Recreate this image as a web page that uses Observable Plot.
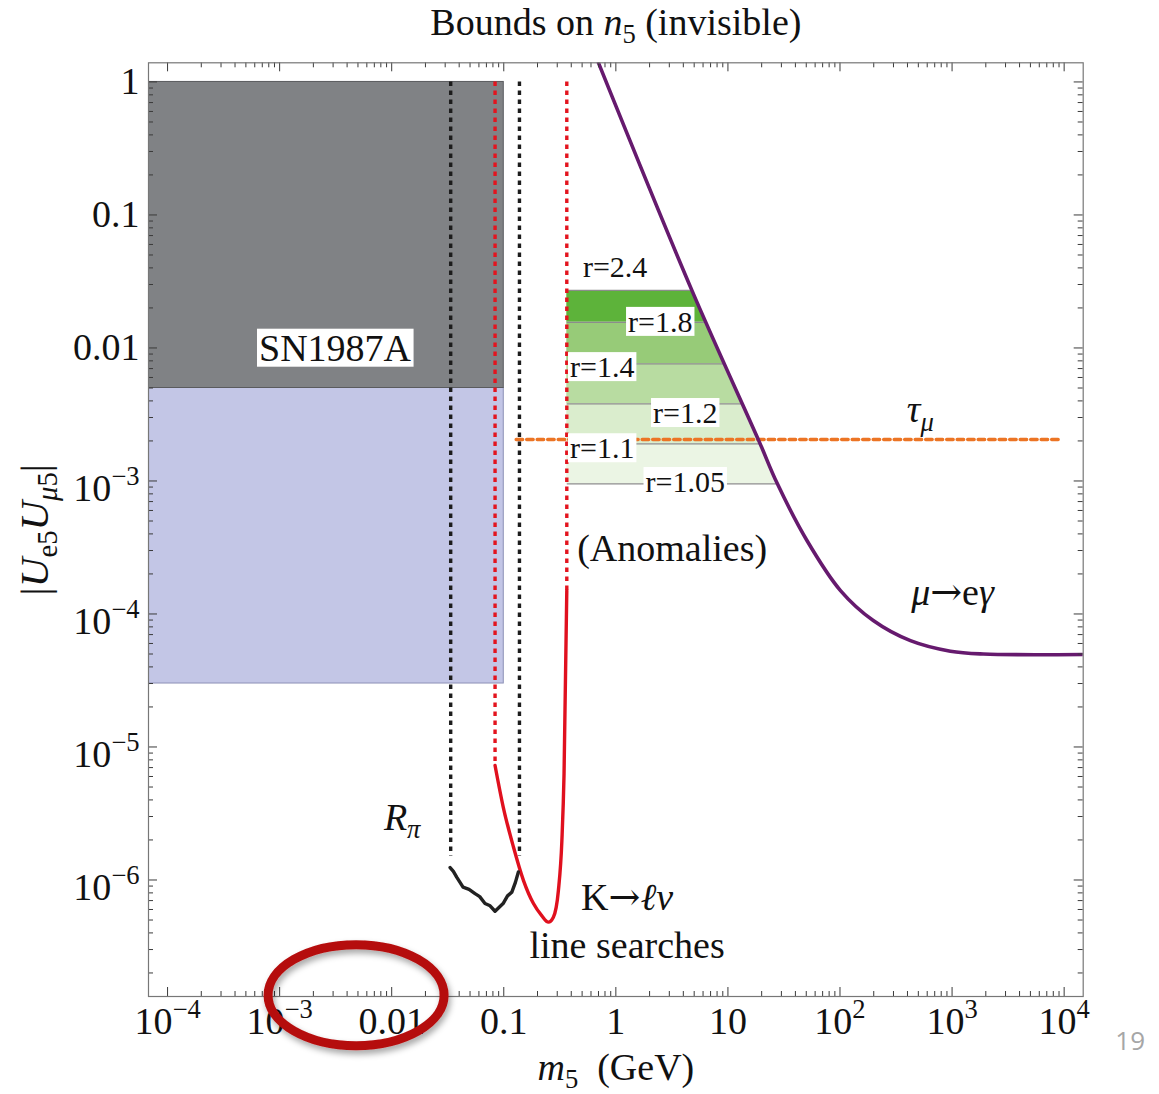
<!DOCTYPE html>
<html>
<head>
<meta charset="utf-8">
<script src="https://cdn.jsdelivr.net/npm/d3@7"></script>
<script src="https://cdn.jsdelivr.net/npm/@observablehq/plot@0.6"></script>
<style>
  html, body { margin: 0; padding: 0; background: #fff; }
  #chart { width: 1159px; height: 1094px; overflow: hidden; }
</style>
</head>
<body>
<div id="chart"></div>
<script>
// Bounds on the heavy neutrino n5 (invisible): |Ue5 Uμ5| against m5 (GeV), log–log.
// Markup used in the labels: *italic*, _subscript_, ^superscript^.

// SN1987A exclusion (dark) and its weaker extension (light blue)
const snMass = [1e-5, 0.1];
const snDarkU = [5e-3, 1];
const snLightU = [3e-5, 5e-3];

// R_pi: dotted vertical limits and the solid bound at the bottom
const rpiEdgeMass = [0.0336, 0.138];
const rpiEdgeTop = [1, 1];
const rpiEdgeBottom = [1.5e-6, 1.5e-6];
const rpiMass = [0.0332, 0.0355, 0.038, 0.0433, 0.049, 0.0554, 0.061, 0.068, 0.0755, 0.0836, 0.0986, 0.108, 0.118, 0.127, 0.135];
const rpiU = [1.24e-6, 1.16e-6, 1.05e-6, 8.83e-7, 8.5e-7, 7.9e-7, 7.5e-7, 6.65e-7, 6.4e-7, 5.82e-7, 6.65e-7, 7.6e-7, 8.1e-7, 9.6e-7, 1.15e-6];

// K → ℓν line searches: dotted vertical limits and the solid bound
const kEdgeMass = [0.0836, 0.365];
const kEdgeTop = [1, 1];
const kEdgeBottom = [7.26e-6, 1.5e-4];
const kMass = [0.0836, 0.099, 0.122, 0.150, 0.184, 0.218, 0.25, 0.277, 0.307, 0.33, 0.345, 0.365];
const kU = [7.26e-6, 3.52e-6, 1.77e-6, 9.9e-7, 6.65e-7, 5.4e-7, 4.82e-7, 5.25e-7, 8.3e-7, 1.98e-6, 6.3e-6, 1.5e-4];

// μ → eγ bound
const meMass = [0.70, 4.77, 18.8, 27.5, 50.7, 101, 198, 425, 966, 1900, 14800];
const meU = [1.39, 0.0271, 2.02e-3, 9.6e-4, 3.57e-4, 1.5e-4, 8.93e-5, 6.3e-5, 5.25e-5, 5.0e-5, 4.96e-5];

// τ_μ bound
const tauMass = [0.129, 9600];
const tauU = [2.05e-3, 2.05e-3];

// Anomaly-preferred bands (contours of r), bounded on the right by μ → eγ
const bandLeftMass = 0.365;
const bandEdgeU = [0.0271, 0.0156, 7.6e-3, 3.8e-3, 1.9e-3, 9.5e-4];
const bandFill = ["#5db33a", "#97cb78", "#b8dca1", "#daedcd", "#ebf5e4"];
const rLabels = ["r=2.4", "r=1.8", "r=1.4", "r=1.2", "r=1.1", "r=1.05"];
const rLabelMass = [0.985, 2.49, 0.755, 4.16, 0.755, 4.16];
const rLabelU = [0.0403, 0.0156, 7.13e-3, 3.22e-3, 1.75e-3, 9.75e-4];

// Other annotations
const annText = ["(Anomalies)", "*τ*_*μ*_", "*μ*→e*γ*", "*R*_*π*_", "K→*ℓν*", "line searches"];
const annMass = [3.18, 521, 1010, 0.0124, 1.26, 1.26];
const annU = [3.1e-4, 3.4e-3, 1.45e-4, 2.95e-6, 7.4e-7, 3.2e-7];
const snLabel = ["SN1987A"];
const snLabelMass = [3.12e-3];
const snLabelU = [9.9e-3];

// Axis ticks
const xMajor = [1e-4, 1e-3, 0.01, 0.1, 1, 10, 100, 1000, 10000];
const xMajorText = ["10^−4^", "10^−3^", "0.01", "0.1", "1", "10", "10^2^", "10^3^", "10^4^"];
const yMajor = [1, 0.1, 0.01, 1e-3, 1e-4, 1e-5, 1e-6];
const yMajorText = ["1", "0.1", "0.01", "10^−3^", "10^−4^", "10^−5^", "10^−6^"];

// Highlight ring around the 10^-3 … 0.01 tick labels
const ringMass = 4.86e-3;
const ringU = 1.35e-7;

// ---- layout ----
const W = 1159, H = 1094;
const mL = 148, mR = 76.3, mT = 62.3, mB = 98;
const frameH = H - mT - mB;
const frameW = W - mL - mR;
const xDomain = [10 ** -4.17, 10 ** 4.17];
const yDomain = [10 ** -6.876, 10 ** 0.144];

const isDecade = v => Math.abs(Math.log10(v) - Math.round(Math.log10(v))) < 1e-6;
const xMinor = d3.scaleLog().domain([1e-4, 1e4]).ticks().filter(v => !isDecade(v));
const yMinor = d3.scaleLog().domain(yDomain).ticks().filter(v => !isDecade(v));

// mass on the μ → eγ curve at a given mixing (log–log interpolation)
function meAt(u) {
  const lu = Math.log10(u);
  for (let i = 0; i < meU.length - 1; i++) {
    const a = Math.log10(meU[i]), b = Math.log10(meU[i + 1]);
    if (lu <= a && lu >= b) {
      const t = (lu - a) / (b - a);
      const ma = Math.log10(meMass[i]), mb = Math.log10(meMass[i + 1]);
      return 10 ** (ma + t * (mb - ma));
    }
  }
  return meMass[meMass.length - 1];
}

function bandRows(top, bot) {
  const rows = [{u: top, m: meAt(top)}];
  meU.forEach((u, i) => { if (u < top && u > bot) rows.push({u, m: meMass[i]}); });
  rows.push({u: bot, m: meAt(bot)});
  return rows;
}

const bandMarks = bandFill.map((fill, i) =>
  Plot.areaX(bandRows(bandEdgeU[i], bandEdgeU[i + 1]), {
    y: "u", x1: () => bandLeftMass, x2: "m", fill
  })
);

const serif = "Liberation Serif";
const ink = "#111";
const tickColor = "#3a3a3a";
const yPlainIdx = yMajor.map((d, i) => i).filter(i => !yMajorText[i].includes("^"));
const yPowIdx = yMajor.map((d, i) => i).filter(i => yMajorText[i].includes("^"));

const plot = Plot.plot({
  width: W, height: H,
  marginLeft: mL, marginRight: mR, marginTop: mT, marginBottom: mB,
  style: {fontFamily: serif, background: "#fff", overflow: "visible"},
  x: {type: "log", domain: xDomain, axis: null},
  y: {type: "log", domain: yDomain, axis: null},
  marks: [
    // SN1987A regions
    Plot.rect([0], {x1: [snMass[0]], x2: [snMass[1]], y1: [snLightU[0]], y2: [snLightU[1]],
      fill: "#c3c6e6", stroke: "#8d91b6", strokeWidth: 1, clip: true}),
    Plot.rect([0], {x1: [snMass[0]], x2: [snMass[1]], y1: [snDarkU[0]], y2: [snDarkU[1]],
      fill: "#808285", stroke: "#5a5b5e", strokeWidth: 1, clip: true}),

    // anomaly bands and their contour lines
    ...bandMarks,
    Plot.link(bandEdgeU, {x1: () => bandLeftMass, x2: d => meAt(d), y1: d => d, y2: d => d,
      stroke: "#8c8c8c", strokeWidth: 1.3}),

    // τ_μ
    Plot.line(tauMass, {x: tauMass, y: tauU, stroke: "#ec7424", strokeWidth: 3.4, strokeDasharray: "6.5,4"}),

    // dotted vertical limits
    Plot.ruleX(rpiEdgeMass, {x: rpiEdgeMass, y1: rpiEdgeTop, y2: rpiEdgeBottom,
      stroke: "#1c1c1c", strokeWidth: 3.4, strokeDasharray: "4.5,4.5"}),
    Plot.ruleX(kEdgeMass, {x: kEdgeMass, y1: kEdgeTop, y2: kEdgeBottom,
      stroke: "#e3141e", strokeWidth: 3.4, strokeDasharray: "4.5,4.5"}),

    // μ → eγ
    Plot.line(meMass, {x: meMass, y: meU, stroke: "#661a6e", strokeWidth: 3.6, curve: "catmull-rom", clip: true}),
    // K → ℓν line searches
    Plot.line(kMass, {x: kMass, y: kU, stroke: "#e0101e", strokeWidth: 3.4, curve: "monotone-x"}),
    // R_π
    Plot.line(rpiMass, {x: rpiMass, y: rpiU, stroke: "#222", strokeWidth: 3.4}),

    // labels
    Plot.text(rLabels, {x: rLabelMass, y: rLabelU, text: d => d, fontSize: 30, fill: ink}),
    Plot.text(snLabel, {x: snLabelMass, y: snLabelU, text: d => d, fontSize: 38, fill: ink}),
    Plot.text(annText, {x: annMass, y: annU, text: d => d, fontSize: 38, fill: ink}),

    // ticks on all four sides, pointing inward
    Plot.ruleX(xMinor, {x: d => d, insetTop: frameH - 5, stroke: tickColor}),
    Plot.ruleX(xMinor, {x: d => d, insetBottom: frameH - 5, stroke: tickColor}),
    Plot.ruleX(xMajor, {x: d => d, insetTop: frameH - 9, stroke: tickColor}),
    Plot.ruleX(xMajor, {x: d => d, insetBottom: frameH - 9, stroke: tickColor}),
    Plot.ruleY(yMinor, {y: d => d, insetRight: frameW - 5, stroke: tickColor}),
    Plot.ruleY(yMinor, {y: d => d, insetLeft: frameW - 5, stroke: tickColor}),
    Plot.ruleY(yMajor, {y: d => d, insetRight: frameW - 9, stroke: tickColor}),
    Plot.ruleY(yMajor, {y: d => d, insetLeft: frameW - 9, stroke: tickColor}),
    Plot.frame({stroke: "#777", strokeWidth: 1.2}),

    // tick labels
    Plot.text(xMajor, {x: d => d, text: (d, i) => xMajorText[i], frameAnchor: "bottom", dy: 25,
      lineAnchor: "middle", textAnchor: "middle", fontSize: 38, fill: ink}),
    Plot.text(yPlainIdx, {y: i => yMajor[i], text: i => yMajorText[i], frameAnchor: "left", dx: -9,
      lineAnchor: "middle", textAnchor: "end", fontSize: 38, fill: ink}),
    Plot.text(yPowIdx, {y: i => yMajor[i], text: i => yMajorText[i], frameAnchor: "left", dx: -9, dy: 8,
      lineAnchor: "middle", textAnchor: "end", fontSize: 38, fill: ink}),

    // titles
    Plot.text(["Bounds on *n*_5_ (invisible)"], {text: d => d, frameAnchor: "top", dy: -40,
      lineAnchor: "middle", textAnchor: "middle", fontSize: 38, fill: ink}),
    Plot.text(["*m*_5_\u00a0 (GeV)"], {text: d => d, frameAnchor: "bottom", dy: 71,
      lineAnchor: "middle", textAnchor: "middle", fontSize: 38, fill: ink}),
    Plot.text(["|*U*_e5_*U*_*μ*5_|"], {text: d => d, frameAnchor: "left", dx: -114, rotate: -90,
      lineAnchor: "middle", textAnchor: "middle", fontSize: 41, fill: ink}),
    Plot.text(["19"], {text: d => d, frameAnchor: "bottom-right", dx: 47, dy: 45,
      lineAnchor: "middle", textAnchor: "middle", fontSize: 26, fontFamily: "Open Sans", fill: "#a6a6a6"})
  ]
});

document.getElementById("chart").appendChild(plot);

// turn the label markup into styled tspans
const NS = "http://www.w3.org/2000/svg";
function richify(el) {
  const raw = el.textContent;
  if (!/[*_^→]/.test(raw)) return;
  const g = el.closest("[font-size]");
  const fs = parseFloat(el.getAttribute("font-size") || (g && g.getAttribute("font-size")) || 16);
  el.textContent = "";
  let it = false, sub = false, sup = false, buf = "", shift = 0;
  const flush = (family) => {
    if (!buf) return;
    const t = document.createElementNS(NS, "tspan");
    const target = sub ? 0.22 * fs : sup ? -0.42 * fs : 0;
    if (target !== shift) t.setAttribute("dy", target - shift);
    shift = target;
    if (sub || sup) t.setAttribute("font-size", 0.7 * fs);
    if (it) t.setAttribute("font-style", "italic");
    if (family) t.setAttribute("font-family", family);
    t.textContent = buf;
    el.appendChild(t);
    buf = "";
  };
  for (const c of raw) {
    if (c === "*") { flush(); it = !it; }
    else if (c === "_") { flush(); sub = !sub; }
    else if (c === "^") { flush(); sup = !sup; }
    else if (c === "→") { flush(); buf = c; flush("DejaVu Serif"); }
    else buf += c;
  }
  flush();
}
plot.querySelectorAll("text").forEach(richify);

// white boxes behind the contour labels (except the top one) and the SN1987A label
const boxed = new Set([...rLabels.slice(1), ...snLabel]);
plot.querySelectorAll("text").forEach(t => {
  if (!boxed.has(t.textContent)) return;
  const b = t.getBBox();
  const r = document.createElementNS(NS, "rect");
  r.setAttribute("x", b.x - 2);
  r.setAttribute("y", b.y + 2);
  r.setAttribute("width", b.width + 4);
  r.setAttribute("height", b.height - 4);
  r.setAttribute("fill", "#fff");
  if (t.getAttribute("transform")) r.setAttribute("transform", t.getAttribute("transform"));
  t.parentNode.insertBefore(r, t);
});

// red highlight ring
const sx = plot.scale("x"), sy = plot.scale("y");
const svg = d3.select(plot);
const defs = svg.append("defs");
defs.append("filter").attr("id", "ringShadow").attr("x", "-20%").attr("y", "-20%").attr("width", "140%").attr("height", "150%")
  .append("feDropShadow").attr("dx", 2).attr("dy", 4).attr("stdDeviation", 3)
  .attr("flood-color", "#000").attr("flood-opacity", 0.35);
svg.append("ellipse")
  .attr("cx", sx.apply(ringMass)).attr("cy", sy.apply(ringU))
  .attr("rx", 88).attr("ry", 50.5)
  .attr("fill", "none").attr("stroke", "#b50d0d").attr("stroke-width", 9)
  .attr("filter", "url(#ringShadow)");
</script>
</body>
</html>
